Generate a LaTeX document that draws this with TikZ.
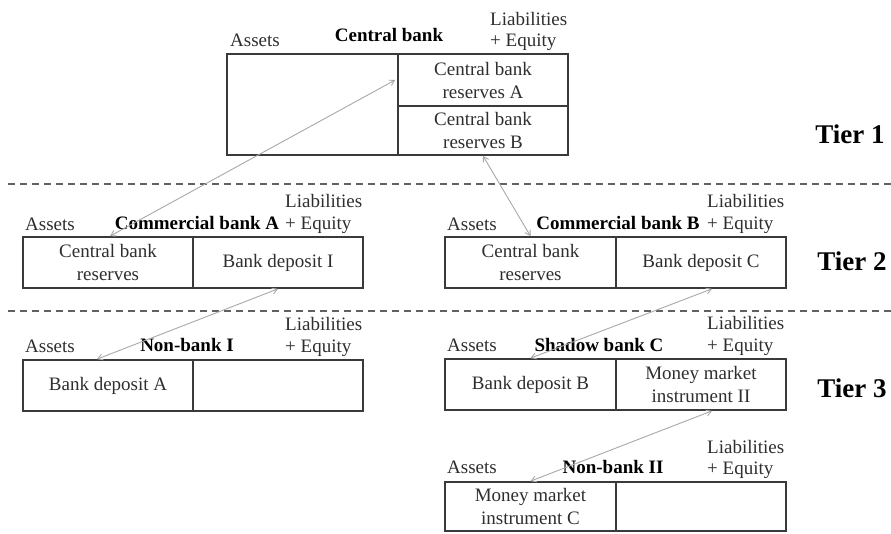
\documentclass[tikz,border=0pt]{standalone}
\usepackage{fontspec}
\setmainfont{Liberation Serif}
\usetikzlibrary{arrows.meta}
\definecolor{boxline}{HTML}{3A3A3A}
\definecolor{arrowc}{HTML}{A8A8A8}
\definecolor{txt}{HTML}{2E2E2E}
\tikzset{
  cell/.style={draw=boxline, line width=1.7pt, rectangle, inner sep=0pt, align=center,
    text=txt, font=\fontsize{19}{23}\selectfont},
  lab/.style={inner sep=0pt, text=txt, font=\fontsize{19}{23}\selectfont},
  ttl/.style={inner sep=0pt, anchor=base, text=black, font=\fontsize{19}{23}\selectfont\bfseries},
  tier/.style={inner sep=0pt, anchor=base, text=black, font=\fontsize{27}{30}\selectfont\bfseries},
  link/.style={draw=arrowc, line width=0.9pt, {Straight Barb[length=5pt,width=6pt]}-{Straight Barb[length=5pt,width=6pt]}},
  sep/.style={draw=boxline!80, line width=1.5pt, dash pattern=on 7pt off 5pt}
}
\begin{document}
\begin{tikzpicture}[x=1pt,y=-1pt]
\useasboundingbox (0,0) rectangle (891,533);

% dashed tier separators
\draw[sep] (8,184) -- (891,184);
\draw[sep] (8,311) -- (891,311);

% Central bank
\node[cell, minimum width=171pt, minimum height=101pt] (cbL) at (312.5,104.5) {};
\node[cell, minimum width=170pt, minimum height=52pt] (cbRA) at (483,80) {Central bank\\reserves A};
\node[cell, minimum width=170pt, minimum height=49pt] (cbRB) at (483,130.5) {Central bank\\reserves B};
\node[lab, anchor=base west] (cbAs) at (230,46) {Assets};
\node[ttl] (cbT) at (389,41) {Central bank};
\node[lab, anchor=base west] (cbLi) at (490,25) {Liabilities};
\node[lab, anchor=base west] (cbEq) at (490,46) {+ Equity};

% Commercial bank A
\node[cell, minimum width=170pt, minimum height=51pt] (aL) at (108,262.5) {Central bank\\reserves};
\node[cell, minimum width=170pt, minimum height=51pt] (aR) at (278,262.5) {Bank deposit I};
\node[lab, anchor=base west] (aAs) at (25,230) {Assets};
\node[ttl] (aT) at (197,229) {Commercial bank A};
\node[lab, anchor=base west] (aLi) at (285,207) {Liabilities};
\node[lab, anchor=base west] (aEq) at (285,229) {+ Equity};

% Commercial bank B
\node[cell, minimum width=171pt, minimum height=51pt] (bL) at (530.5,262.5) {Central bank\\reserves};
\node[cell, minimum width=170pt, minimum height=51pt] (bR) at (701,262.5) {Bank deposit C};
\node[lab, anchor=base west] (bAs) at (447,230) {Assets};
\node[ttl] (bT) at (618,229) {Commercial bank B};
\node[lab, anchor=base west] (bLi) at (707,207) {Liabilities};
\node[lab, anchor=base west] (bEq) at (707,229) {+ Equity};

% Non-bank I
\node[cell, minimum width=170pt, minimum height=51pt] (nL) at (108,385.5) {Bank deposit A};
\node[cell, minimum width=170pt, minimum height=51pt] (nR) at (278,385.5) {};
\node[lab, anchor=base west] (nAs) at (25,352) {Assets};
\node[ttl] (nT) at (187,351) {Non-bank I};
\node[lab, anchor=base west] (nLi) at (285,330) {Liabilities};
\node[lab, anchor=base west] (nEq) at (285,352) {+ Equity};

% Shadow bank C
\node[cell, minimum width=171pt, minimum height=51pt] (sL) at (530.5,384.5) {Bank deposit B};
\node[cell, minimum width=170pt, minimum height=51pt] (sR) at (701,384.5) {Money market\\instrument II};
\node[lab, anchor=base west] (sAs) at (447,351) {Assets};
\node[ttl] (sT) at (599,351) {Shadow bank C};
\node[lab, anchor=base west] (sLi) at (707,329) {Liabilities};
\node[lab, anchor=base west] (sEq) at (707,351) {+ Equity};

% Non-bank II
\node[cell, minimum width=171pt, minimum height=49pt] (mL) at (530.5,506.5) {Money market\\instrument C};
\node[cell, minimum width=170pt, minimum height=49pt] (mR) at (701,506.5) {};
\node[lab, anchor=base west] (mAs) at (447,473) {Assets};
\node[ttl] (mT) at (613,473) {Non-bank II};
\node[lab, anchor=base west] (mLi) at (707,453) {Liabilities};
\node[lab, anchor=base west] (mEq) at (707,474) {+ Equity};

% Tier labels
\node[tier] (t1) at (850,143) {Tier 1};
\node[tier] (t2) at (852,270) {Tier 2};
\node[tier] (t3) at (852,397) {Tier 3};

% connectors
\draw[link] ([xshift=2pt]aL.north) -- ([xshift=-2pt]cbRA.west);
\draw[link] (cbRB.south) -- (bL.north);
\draw[link] (aR.south) -- ([xshift=-11pt]nL.north);
\draw[link] ([xshift=11pt]bR.south) -- (sL.north);
\draw[link] ([xshift=11pt]sR.south) -- (mL.north);
\end{tikzpicture}
\end{document}
